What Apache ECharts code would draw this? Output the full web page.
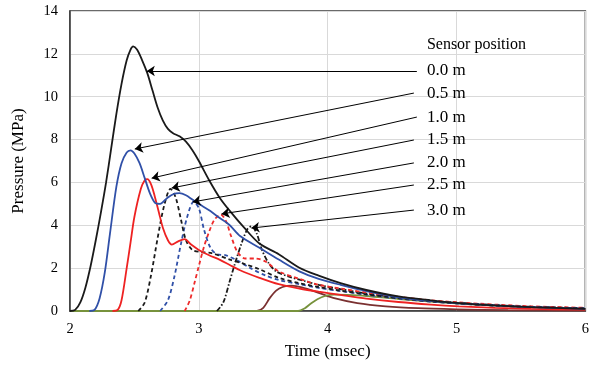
<!DOCTYPE html>
<html><head><meta charset="utf-8">
<script src="https://cdn.jsdelivr.net/npm/echarts@6/dist/echarts.min.js"></script>
<style>html,body{margin:0;padding:0;background:#fff}#c{width:592px;height:365px}</style>
</head><body><div id="c"></div>
<script>
// Sensor 0.0 m (black solid)
const t00 = [2.00,2.04,2.08,2.12,2.16,2.20,2.24,2.28,2.32,2.36,2.40,2.44,2.47,2.49,2.52,2.56,2.60,2.64,2.68,2.72,2.76,2.80,2.85,2.90,2.95,3.00,3.08,3.16,3.25,3.35,3.47,3.62,3.78,3.93,4.10,4.30,4.55,4.80,5.02,5.30,5.58,6.00];
const p00 = [0,0.05,0.4,1.1,2.1,3.3,4.6,6.0,7.6,9.2,10.6,11.7,12.2,12.35,12.2,11.7,11.1,10.3,9.5,8.9,8.5,8.3,8.15,7.9,7.5,7.0,6.1,5.3,4.6,3.9,3.15,2.65,2.02,1.65,1.3,0.98,0.68,0.5,0.37,0.26,0.18,0.1];
// Sensor 0.5 m (blue solid)
const t05 = [2.15,2.19,2.23,2.27,2.31,2.36,2.40,2.44,2.47,2.50,2.54,2.58,2.62,2.66,2.70,2.75,2.80,2.85,2.90,2.95,3.00,3.08,3.16,3.24,3.32,3.47,3.62,3.78,3.93,4.10,4.30,4.55,4.80,5.02,5.30,5.58,6.00];
const p05 = [0,0.05,0.6,1.8,3.6,5.8,6.9,7.4,7.5,7.35,6.9,6.2,5.5,5.05,5.0,5.25,5.45,5.5,5.4,5.2,5.0,4.7,4.35,4.0,3.5,2.95,2.4,1.85,1.5,1.22,0.93,0.64,0.47,0.36,0.26,0.18,0.1];
// Sensor 1.0 m (red solid)
const t10 = [2.33,2.37,2.40,2.44,2.47,2.50,2.55,2.58,2.60,2.63,2.66,2.69,2.72,2.76,2.79,2.84,2.89,2.94,3.00,3.08,3.16,3.24,3.32,3.47,3.62,3.78,3.93,4.10,4.30,4.55,4.80,5.02,5.30,5.58,6.00];
const p10 = [0,0.05,0.5,2.0,3.2,4.4,5.7,6.1,6.15,5.9,5.3,4.6,3.9,3.3,3.1,3.25,3.35,3.1,2.85,2.6,2.4,2.15,1.9,1.55,1.25,1.05,0.9,0.75,0.58,0.42,0.3,0.22,0.15,0.1,0.06];
// Sensor 1.5 m (black dashed)
const t15 = [2.53,2.58,2.63,2.68,2.73,2.78,2.82,2.86,2.90,2.95,3.02,3.10,3.24,3.35,3.47,3.62,3.78,3.93,4.10,4.30,4.55,4.80,5.02,5.30,5.58,6.00];
const p15 = [0,0.4,1.7,3.4,4.9,5.7,5.3,4.3,3.3,2.85,2.75,2.7,2.4,2.2,1.95,1.55,1.3,1.12,0.95,0.78,0.6,0.45,0.35,0.25,0.18,0.12];
// Sensor 2.0 m (blue dashed)
const t20 = [2.70,2.76,2.81,2.86,2.91,2.96,3.00,3.04,3.09,3.14,3.21,3.30,3.40,3.52,3.62,3.78,3.93,4.10,4.30,4.55,4.80,5.02,5.30,5.58,6.00];
const p20 = [0,0.5,1.6,3.1,4.4,5.1,4.8,3.8,2.95,2.65,2.6,2.35,2.0,1.65,1.45,1.25,1.08,0.93,0.76,0.58,0.44,0.35,0.25,0.18,0.12];
// Sensor 2.5 m (red dashed)
const t25 = [2.89,2.93,2.97,3.00,3.04,3.08,3.12,3.17,3.21,3.25,3.30,3.36,3.44,3.52,3.62,3.78,3.93,4.10,4.30,4.55,4.80,5.02,5.30,5.58,6.00];
const p25 = [0,0.5,1.4,2.1,3.0,3.7,4.25,4.5,4.2,3.5,2.75,2.45,2.45,2.3,1.85,1.5,1.22,1.05,0.86,0.66,0.5,0.4,0.3,0.22,0.15];
// Sensor 3.0 m (black dash-dot)
const t30 = [3.14,3.19,3.24,3.29,3.34,3.38,3.41,3.45,3.49,3.54,3.60,3.70,3.82,3.93,4.10,4.30,4.55,4.80,5.02,5.30,5.58,6.00];
const p30 = [0,0.4,1.4,2.4,3.3,3.85,3.95,3.6,2.85,2.25,1.85,1.6,1.4,1.22,1.02,0.82,0.63,0.48,0.38,0.28,0.2,0.13];
// Sensor 3.5 m (brown solid)
const t35 = [2.00,3.45,3.50,3.55,3.60,3.65,3.72,3.80,3.93,4.05,4.23,4.45,4.70,5.00,5.40,6.00];
const p35 = [0,0,0.15,0.6,0.95,1.12,1.18,1.1,0.85,0.6,0.37,0.22,0.13,0.08,0.04,0.02];
// Sensor 4.0 m (olive solid)
const t40 = [2.00,3.77,3.82,3.87,3.92,3.98,4.05,4.15,4.30,4.55,4.80,5.02,5.30,5.58,6.00];
const p40 = [0,0,0.12,0.35,0.55,0.7,0.76,0.75,0.7,0.56,0.44,0.35,0.25,0.17,0.1];

const sensorLabels = ['0.0 m','0.5 m','1.0 m','1.5 m','2.0 m','2.5 m','3.0 m'];
const arrowStartX = [4.692,4.669,4.692,4.669,4.669,4.669,4.669];
const arrowStartY = [11.2,10.17,9.05,7.98,6.91,5.88,4.71];
const arrowTipX = [2.596,2.503,2.634,2.789,2.952,3.176,3.408];
const arrowTipY = [11.2,7.56,6.2,5.74,5.09,4.53,3.87];
const labelX = 4.77;
const titleY = 12.41;

const FONT = "'Liberation Serif','Times New Roman',serif";
const zip = (a,b) => a.map((v,i)=>[v,b[i]]);

function lineSeries(name, t, p, color, type, width) {
  return {
    name, type: 'line', data: zip(t,p), smooth: 0.3, showSymbol: false, silent: true,
    lineStyle: { color, width: width || 1.8, type: type || 'solid' },
    z: 3
  };
}

const chart = echarts.init(document.getElementById('c'), null, {renderer:'canvas'});
const arrowData = sensorLabels.map((s,i)=>[
  {coord:[arrowStartX[i], arrowStartY[i]], symbol: 'none'},
  {coord:[arrowTipX[i], arrowTipY[i]], symbol: 'arrow', symbolSize: 8}
]);

chart.setOption({
  animation: false,
  backgroundColor: '#fff',
  grid: { left: 70, right: 5, top: 11, bottom: 54, show: true, borderColor: '#3a3a3a', borderWidth: 1.5 },
  xAxis: {
    type: 'value', min: 2, max: 6, interval: 1,
    name: 'Time (msec)', nameLocation: 'middle', nameGap: 32,
    nameTextStyle: { fontFamily: FONT, fontSize: 17, color: '#000' },
    axisLine: { show: true, lineStyle: { color: '#3a3a3a', width: 1.5 } },
    axisTick: { show: false },
    axisLabel: { fontFamily: FONT, fontSize: 14.5, color: '#000', margin: 11 },
    splitLine: { show: true, lineStyle: { color: '#d9d9d9', width: 1 } }
  },
  yAxis: {
    type: 'value', min: 0, max: 14, interval: 2,
    name: 'Pressure (MPa)', nameLocation: 'middle', nameGap: 43,
    nameTextStyle: { fontFamily: FONT, fontSize: 17, color: '#000' },
    axisLine: { show: true, lineStyle: { color: '#3a3a3a', width: 1.5 } },
    axisTick: { show: false },
    axisLabel: { fontFamily: FONT, fontSize: 14.5, color: '#000', margin: 12 },
    splitLine: { show: true, lineStyle: { color: '#d9d9d9', width: 1 } }
  },
  series: [
    lineSeries('3.5 m', t35, p35, '#7a3030', 'solid', 1.8),
    lineSeries('4.0 m', t40, p40, '#77923c', 'solid', 1.8),
    lineSeries('3.0 m', t30, p30, '#1a1a1a', [5,2,1.5,2], 1.8),
    lineSeries('2.5 m', t25, p25, '#ee2a2a', [4,3], 1.8),
    lineSeries('2.0 m', t20, p20, '#3050a8', [4,3], 1.8),
    lineSeries('1.5 m', t15, p15, '#1a1a1a', [4,3], 1.8),
    lineSeries('1.0 m', t10, p10, '#ee2222', 'solid', 1.8),
    lineSeries('0.5 m', t05, p05, '#3050a8', 'solid', 1.8),
    lineSeries('0.0 m', t00, p00, '#1a1a1a', 'solid', 1.8),
    {
      name: 'arrows', type: 'line', data: [], silent: true, z: 5,
      markLine: {
        silent: true, symbol: ['none','arrow'], symbolSize: 8, animation: false,
        label: { show: false },
        lineStyle: { color: '#000', width: 1, type: 'solid' },
        emphasis: { disabled: true },
        data: arrowData
      }
    }
  ]
});

const texts = [];
const tp = chart.convertToPixel({gridIndex:0}, [labelX, titleY]);
texts.push({ type:'text', x: tp[0], y: tp[1], style: { text: 'Sensor position', font: '16px ' + FONT, fill:'#000', textVerticalAlign:'middle' } });
sensorLabels.forEach((s,i)=>{
  const p = chart.convertToPixel({gridIndex:0}, [labelX, arrowStartY[i]]);
  texts.push({ type:'text', x: p[0], y: p[1], style: { text: s, font: '17px ' + FONT, fill:'#000', textVerticalAlign:'middle' } });
});
chart.setOption({ graphic: texts });
</script>
</body></html>
